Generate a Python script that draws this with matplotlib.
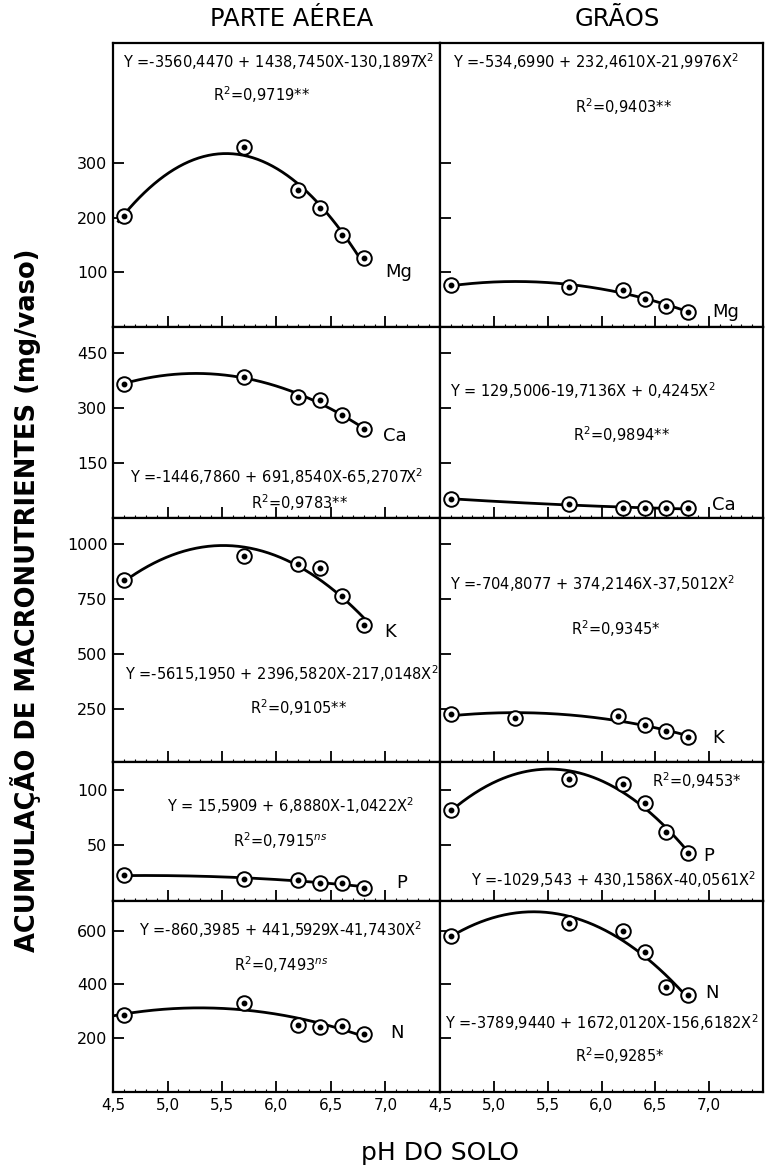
import matplotlib
matplotlib.use('Agg')
import matplotlib.pyplot as plt
import numpy as np

plt.rcParams['font.family'] = ['DejaVu Sans']

# ---------------- data ----------------

nutrients = ['Mg', 'Ca', 'K', 'P', 'N']

ph = [4.6, 5.7, 6.2, 6.4, 6.6, 6.8]
ph_k_graos = [4.6, 5.2, 6.15, 6.4, 6.6, 6.8]

# parte aerea (mg/vaso)
mg_pa = [203, 329, 250, 217, 168, 126]
ca_pa = [366, 383, 330, 320, 280, 243]
k_pa = [838, 948, 909, 891, 767, 631]
p_pa = [23, 20, 19, 16, 16, 12]
n_pa = [286, 330, 249, 241, 244, 214]

# graos (mg/vaso)
mg_gr = [76, 74, 68, 52, 39, 28]
ca_gr = [52, 38, 27, 27, 26, 26]
k_gr = [230, 212, 219, 178, 151, 123]
p_gr = [82, 110, 105, 88, 62, 43]
n_gr = [581, 627, 600, 521, 391, 361]

# where each fitted curve starts (pH)
pa_fit_start = [4.55, 4.6, 4.6, 4.6, 4.5]
gr_fit_start = [4.6, 4.6, 4.6, 4.6, 4.6]

pa_eq = ['Y =-3560,4470 + 1438,7450X-130,1897X$^2$',
         'Y =-1446,7860 + 691,8540X-65,2707X$^2$',
         'Y =-5615,1950 + 2396,5820X-217,0148X$^2$',
         'Y = 15,5909 + 6,8880X-1,0422X$^2$',
         'Y =-860,3985 + 441,5929X-41,7430X$^2$']
pa_r2 = ['R$^2$=0,9719**', 'R$^2$=0,9783**', 'R$^2$=0,9105**',
         'R$^2$=0,7915$^{ns}$', 'R$^2$=0,7493$^{ns}$']

gr_eq = ['Y =-534,6990 + 232,4610X-21,9976X$^2$',
         'Y = 129,5006-19,7136X + 0,4245X$^2$',
         'Y =-704,8077 + 374,2146X-37,5012X$^2$',
         'Y =-1029,543 + 430,1586X-40,0561X$^2$',
         'Y =-3789,9440 + 1672,0120X-156,6182X$^2$']
gr_r2 = ['R$^2$=0,9403**', 'R$^2$=0,9894**', 'R$^2$=0,9345*',
         'R$^2$=0,9453*', 'R$^2$=0,9285*']

y_limits = [(0, 520), (0, 520), (10, 1120), (0, 125), (0, 710)]
y_ticks = [[100, 200, 300], [150, 300, 450], [250, 500, 750, 1000],
           [50, 100], [200, 400, 600]]
x_ticks = [4.5, 5.0, 5.5, 6.0, 6.5, 7.0]
x_ticklabels = ['4,5', '5,0', '5,5', '6,0', '6,5', '7,0']

# ---------------- layout (pixel positions of the panel grid) ----------------

W, H = 765, 1175
col_px = [(113, 440), (440, 763)]
row_px = [43, 327, 518, 762, 901, 1092]

# text positions in axes fraction: (eq, r2, element label)
pa_pos = [((0.505, 0.933), (0.455, 0.817), (0.874, 0.194)),
          ((0.498, 0.216), (0.569, 0.08), (0.862, 0.429)),
          ((0.517, 0.364), (0.566, 0.223), (0.846, 0.534)),
          ((0.542, 0.683), (0.511, 0.434), (0.883, 0.13)),
          ((0.514, 0.852), (0.516, 0.665), (0.868, 0.309))]
gr_pos = [((0.483, 0.933), (0.569, 0.775), (0.884, 0.053)),
          ((0.443, 0.667), (0.563, 0.435), (0.878, 0.068)),
          ((0.474, 0.732), (0.544, 0.548), (0.862, 0.098)),
          ((0.538, 0.151), (0.795, 0.866), (0.832, 0.324)),
          ((0.5, 0.361), (0.557, 0.19), (0.841, 0.518))]

pa_values = [mg_pa, ca_pa, k_pa, p_pa, n_pa]
gr_values = [mg_gr, ca_gr, k_gr, p_gr, n_gr]
gr_ph = [ph, ph, ph_k_graos, ph, ph]


def draw_panel(ax, x, y, fit_start, eq, r2, label, pos):
    x = np.array(x, dtype=float)
    y = np.array(y, dtype=float)
    coef = np.polyfit(x, y, 2)
    xs = np.linspace(fit_start, x[-1], 200)
    ax.plot(xs, np.polyval(coef, xs), color='black', lw=2.0, zorder=2)
    ax.plot(x, y, 'o', ms=10.5, mfc='white', mec='black', mew=1.4, zorder=3)
    ax.plot(x, y, 'o', ms=3.2, color='black', zorder=4)
    ax.text(pos[0][0], pos[0][1], eq, transform=ax.transAxes,
            ha='center', va='center', fontsize=10.5)
    ax.text(pos[1][0], pos[1][1], r2, transform=ax.transAxes,
            ha='center', va='center', fontsize=10.5)
    ax.text(pos[2][0], pos[2][1], label, transform=ax.transAxes,
            ha='center', va='center', fontsize=13)


fig = plt.figure(figsize=(W / 100, H / 100), dpi=100)

for r in range(5):
    for c in range(2):
        x0, x1 = col_px[c]
        top, bot = row_px[r], row_px[r + 1]
        ax = fig.add_axes([x0 / W, 1 - bot / H, (x1 - x0) / W, (bot - top) / H])

        if c == 0:
            draw_panel(ax, ph, pa_values[r], pa_fit_start[r], pa_eq[r],
                       pa_r2[r], nutrients[r], pa_pos[r])
        else:
            draw_panel(ax, gr_ph[r], gr_values[r], gr_fit_start[r], gr_eq[r],
                       gr_r2[r], nutrients[r], gr_pos[r])

        ax.set_xlim(4.5, 7.5)
        ax.set_ylim(*y_limits[r])
        ax.set_xticks(x_ticks)
        ax.set_xticks(np.arange(4.6, 7.45, 0.1), minor=True)
        ax.set_yticks(y_ticks[r])

        if r == 4:
            ax.set_xticklabels(x_ticklabels, fontsize=11)
        else:
            ax.set_xticklabels([])
        if c == 0:
            ax.set_yticklabels([str(v) for v in y_ticks[r]], fontsize=11.5)
        else:
            ax.set_yticklabels([])

        ax.tick_params(axis='both', which='major', direction='in', length=8,
                       width=1.3, top=False, right=False, pad=4)
        ax.tick_params(axis='x', which='minor', direction='in', length=2,
                       width=0.8, top=False)
        for s in ax.spines.values():
            s.set_linewidth(1.6)

fig.text(292 / W, 1 - 19 / H, 'PARTE AÉREA', ha='center', va='center',
         fontsize=17.5)
fig.text(617 / W, 1 - 19 / H, 'GRÃOS', ha='center', va='center',
         fontsize=17.5)
fig.text(26 / W, 1 - 600 / H, 'ACUMULAÇÃO DE MACRONUTRIENTES (mg/vaso)',
         rotation=90, ha='center', va='center', fontsize=18.5,
         fontweight='bold')
fig.text(440 / W, 1 - 1153 / H, 'pH DO SOLO', ha='center', va='center',
         fontsize=18)

plt.savefig('out.png', dpi=100)
